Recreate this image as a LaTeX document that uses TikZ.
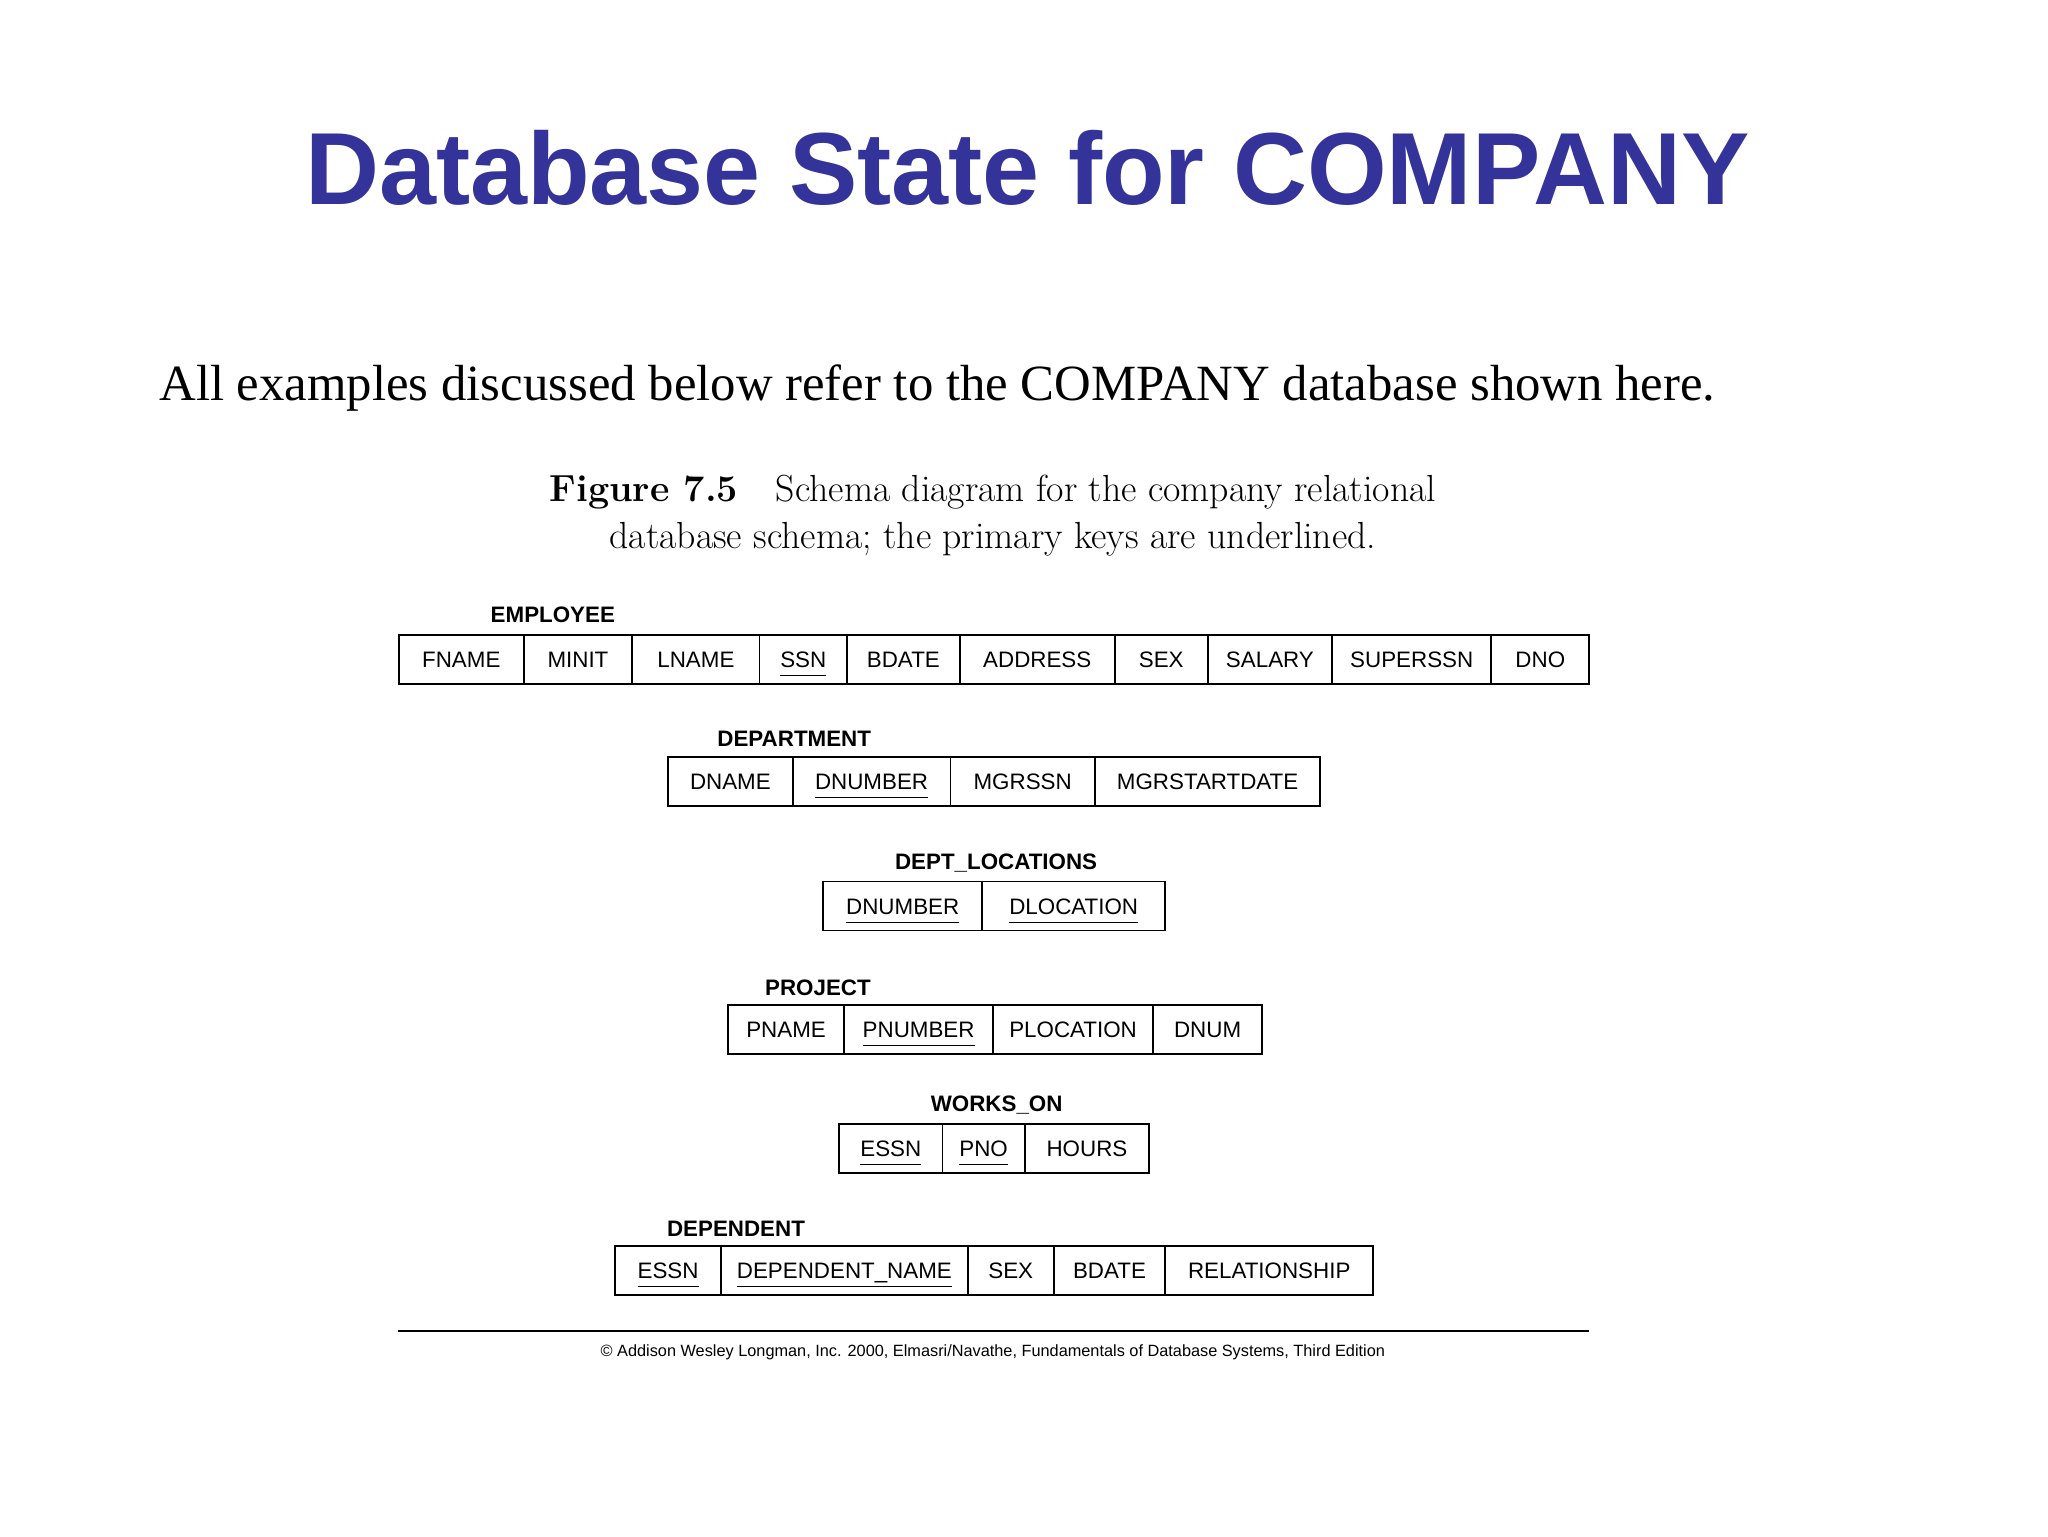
\documentclass[tikz,border=0pt]{standalone}
\usepackage{fontspec}
\setmainfont{Liberation Serif}
\setsansfont{Liberation Sans}
\newfontfamily\capfont{Latin Modern Roman}
\definecolor{titleblue}{RGB}{51,51,153}
\newcommand\relrow[3]{%
  \foreach \a/\b/\t/\k [count=\i] in {#3} {
    \pgfmathsetmacro\w{(\b-\a)*0.02}
    \node[cell, minimum width=\w cm] (#1\i) at ({(\a+\b)/2},#2)
      {\ifnum\k=1 \underline{\t\vphantom{p}}\else\t\fi};
  }}
\begin{document}
\begin{tikzpicture}[x=0.02cm,y=-0.02cm,
  cell/.style={draw,line width=0.8pt,minimum height=0.74cm,inner sep=0pt,text height=6.9pt,text depth=0pt,font=\sffamily\fontsize{9.6}{12}\selectfont},
  rlabel/.style={anchor=west,font=\sffamily\bfseries\fontsize{9.6}{12}\selectfont}]
\useasboundingbox (0,0) rectangle (1545,1159);
\node[font=\sffamily\bfseries\fontsize{44}{52}\selectfont,text=titleblue] (title) at (775,127) {Database State for COMPANY};
\node[anchor=west,font=\fontsize{21.8}{26}\selectfont] (intro) at (114,293) {All examples discussed below refer to the COMPANY database shown here.};
\node[font=\capfont\fontsize{16.2}{20}\selectfont,align=center,inner sep=0pt] (cap) at (749,389)
  {\textbf{Figure 7.5}\quad Schema diagram for the \textsc{company} relational\\database schema; the primary keys are underlined.};
\node[rlabel] (lemp) at (364,464) {EMPLOYEE};
\relrow{e}{497.5}{301/395/FNAME/0,395/477/MINIT/0,477/573/LNAME/0,573/639/SSN/1,639/724/BDATE/0,724/841/ADDRESS/0,841/911/SEX/0,911/1005/SALARY/0,1005/1125/SUPERSSN/0,1125/1199/DNO/0}
\node[rlabel] (ldep) at (535,557) {DEPARTMENT};
\relrow{d}{589.5}{504/598/DNAME/0,598/717/DNUMBER/1,717/826/MGRSSN/0,826/996/MGRSTARTDATE/0}
\node[rlabel] (lloc) at (669,651) {DEPT\_LOCATIONS};
\relrow{l}{683.5}{621/741/DNUMBER/1,741/879/DLOCATION/1}
\node[rlabel] (lproj) at (571,745) {PROJECT};
\relrow{p}{776.5}{549/637/PNAME/0,637/749/PNUMBER/1,749/870/PLOCATION/0,870/952/DNUM/0}
\node[rlabel] (lwo) at (696,834) {WORKS\_ON};
\relrow{w}{866.5}{633/711/ESSN/1,711/773/PNO/1,773/867/HOURS/0}
\node[rlabel] (ldp) at (497,927) {DEPENDENT};
\relrow{t}{958.5}{464/544/ESSN/1,544/730/DEPENDENT\_NAME/1,730/795/SEX/0,795/879/BDATE/0,879/1036/RELATIONSHIP/0}
\coordinate (r1) at (300,1004);
\coordinate (r2) at (1199,1004);
\draw[line width=0.8pt] (r1) -- (r2);
\node[font=\sffamily\fontsize{7}{8}\selectfont] (copy) at (749,1020) {\textcopyright\ Addison Wesley Longman, Inc. 2000, Elmasri/Navathe, Fundamentals of Database Systems, Third Edition};
\end{tikzpicture}
\end{document}
